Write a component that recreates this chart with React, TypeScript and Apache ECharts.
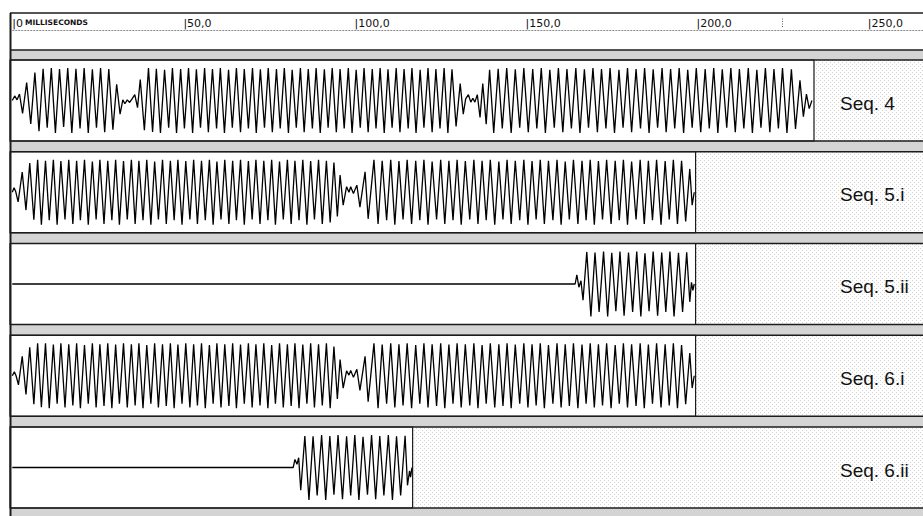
import React, { useEffect, useRef } from "react";
import * as echarts from "echarts";

// ---------- data ----------
const seqLabels = ["Seq. 4", "Seq. 5.i", "Seq. 5.ii", "Seq. 6.i", "Seq. 6.ii"];
const durationsMs = [234.3, 199.7, 199.7, 199.7, 117.0];
const rulerTicks = [0, 50, 100, 150, 200, 250];
const cursorMs = 225;

// turning points of each waveform: [time ms, relative amplitude]
const seq4Wave: [number, number][] = [
  [0,0],[0.7,0.14],[1.4,0.02],[2.1,0.2],[3.0,-0.4],[4.2,0.55],[5.4,-0.72],[6.6,0.86],[7.8,-0.95],[9.0,0.98],[10.2,-0.84],[11.4,1.0],[12.6,-1.0],[13.8,0.97],[15.0,-0.82],[16.2,1.0],[17.4,-1.0],[18.6,0.98],[19.8,-0.86],[21.0,1.0],[22.2,-1.0],[23.4,0.96],[24.6,-0.84],[25.8,1.0],[27.0,-0.98],[28.2,0.97],[29.4,-0.9],[30.5,0.5],[31.5,-0.42],[32.3,0.02],[32.9,-0.1],[33.6,0.02],[34.3,-0.06],[35.0,0.05],[35.8,0.18],[36.6,-0.22],[37.4,0.65],[38.6,-0.92],[39.8,1.0],
  [41.0,-0.97],[42.1,0.98],[43.3,-1.0],[44.5,0.95],[45.7,-0.84],[46.8,1.0],[48.0,-1.0],[49.2,0.97],[50.3,-0.86],[51.5,1.0],[52.7,-1.0],[53.8,0.96],[55.0,-0.84],[56.2,1.0],[57.3,-0.98],[58.5,0.97],[59.7,-0.86],[60.8,1.0],[62.0,-1.0],[63.2,0.95],[64.3,-0.84],[65.5,1.0],[66.7,-0.98],[67.8,0.97],[69.0,-0.86],[70.2,1.0],[71.3,-1.0],[72.5,0.96],[73.7,-0.84],[74.8,1.0],[76.0,-0.98],[77.2,0.97],[78.3,-0.86],[79.5,1.0],[80.7,-1.0],[81.8,0.95],[83.0,-0.84],[84.2,1.0],[85.3,-0.98],[86.5,0.97],[87.7,-0.86],[88.8,1.0],[90.0,-1.0],[91.2,0.96],[92.3,-0.84],[93.5,1.0],[94.7,-0.98],[95.8,0.97],[97.0,-0.86],[98.2,1.0],[99.3,-1.0],[100.5,0.95],[101.7,-0.84],[102.8,1.0],[104.0,-0.98],[105.2,0.97],[106.3,-0.86],[107.5,1.0],[108.7,-1.0],[109.8,0.96],[111.0,-0.84],[112.2,1.0],[113.3,-0.98],[114.5,0.97],[115.7,-0.86],[116.8,1.0],[118.0,-1.0],[119.2,0.95],[120.3,-0.84],[121.5,1.0],[122.7,-0.98],[123.8,0.97],[125.0,-0.86],[126.2,1.0],[127.3,-1.0],[128.5,0.96],[129.7,-0.8],[130.9,0.52],[131.8,-0.42],[132.5,0.05],[133.3,0.18],[134.0,-0.05],[134.6,0.07],[135.2,-0.05],[135.9,0.18],[136.7,-0.52],[137.5,0.52],[138.5,-0.73],[139.5,0.95],
  [140.7,-1.0],[142.0,0.98],[143.2,-0.86],[144.5,1.0],[145.8,-1.0],[147.0,0.96],[148.3,-0.84],[149.5,1.0],[150.8,-0.98],[152.1,0.97],[153.3,-0.86],[154.6,1.0],[155.8,-1.0],[157.1,0.95],[158.4,-0.84],[159.6,1.0],[160.9,-0.98],[162.1,0.97],[163.4,-0.86],[164.7,1.0],[165.9,-1.0],[167.2,0.96],[168.4,-0.84],[169.7,1.0],[171.0,-0.98],[172.2,0.97],[173.5,-0.86],[174.7,1.0],[176.0,-1.0],[177.3,0.95],[178.5,-0.84],[179.8,1.0],[181.0,-0.98],[182.3,0.97],[183.6,-0.86],[184.8,1.0],[186.1,-1.0],[187.3,0.96],[188.6,-0.84],[189.9,1.0],[191.1,-0.98],[192.4,0.97],[193.6,-0.86],[194.9,1.0],[196.2,-1.0],[197.4,0.95],[198.7,-0.84],[199.9,1.0],[201.2,-0.98],[202.5,0.97],[203.7,-0.86],[205.0,1.0],[206.2,-1.0],[207.5,0.96],[208.8,-0.84],[210.0,1.0],[211.3,-0.98],[212.5,0.97],[213.8,-0.86],[215.1,1.0],[216.3,-1.0],[217.6,0.95],[218.8,-0.84],[220.1,1.0],[221.4,-0.98],[222.6,0.97],[223.9,-0.86],[225.1,1.0],[226.4,-1.0],[227.7,0.96],[228.9,-0.88],[230.2,0.62],[231.2,-0.5],[232.1,0.2],[232.9,-0.25],[233.7,0]
];

const seq5iWave: [number, number][] = [
  [0,0],[0.5,0.14],[1.0,0.02],[1.7,-0.3],[2.9,0.62],[4.0,-0.55],[5.1,0.9],[6.3,-0.85],[7.4,1.0],[8.5,-1.0],[9.7,0.97],[10.8,-0.86],[12.0,1.0],[13.1,-1.0],[14.2,0.96],[15.4,-0.84],[16.5,1.0],[17.7,-0.98],[18.8,0.97],[19.9,-0.86],[21.1,1.0],[22.2,-1.0],[23.4,0.95],[24.5,-0.84],[25.6,1.0],[26.8,-0.98],[27.9,0.97],[29.1,-0.86],[30.2,1.0],[31.3,-1.0],[32.5,0.96],[33.6,-0.84],[34.8,1.0],[35.9,-0.98],[37.0,0.97],[38.2,-0.86],[39.3,1.0],[40.5,-1.0],[41.6,0.95],[42.7,-0.84],[43.9,1.0],[45.0,-0.98],[46.2,0.97],[47.3,-0.86],[48.4,1.0],[49.6,-1.0],[50.7,0.96],[51.9,-0.84],[53.0,1.0],[54.1,-0.98],[55.3,0.97],[56.4,-0.86],[57.6,1.0],[58.7,-1.0],[59.8,0.95],[61.0,-0.84],[62.1,1.0],[63.3,-0.98],[64.4,0.97],[65.5,-0.86],[66.7,1.0],[67.8,-1.0],[69.0,0.96],[70.1,-0.84],[71.2,1.0],[72.4,-0.98],[73.5,0.97],[74.7,-0.86],[75.8,1.0],[76.9,-1.0],[78.1,0.95],[79.2,-0.84],[80.4,1.0],[81.5,-0.98],[82.6,0.97],[83.8,-0.86],[84.9,1.0],[86.1,-1.0],[87.2,0.96],[88.3,-0.84],[89.5,1.0],[90.6,-0.98],[91.8,0.97],[92.9,-0.93],[94.0,0.92],[95.0,-0.75],[95.8,0.53],[96.7,-0.4],[97.7,0.17],[98.4,0.0],[98.9,0.17],[99.7,-0.04],[100.7,0.22],[101.6,-0.46],[103.1,0.63],[104.0,-0.82],[105.7,1.0],
  [106.9,-0.98],[108.1,0.97],[109.4,-0.86],[110.6,1.0],[111.8,-1.0],[113.0,0.96],[114.2,-0.84],[115.4,1.0],[116.7,-0.98],[117.9,0.97],[119.1,-0.86],[120.3,1.0],[121.5,-1.0],[122.7,0.95],[124.0,-0.84],[125.2,1.0],[126.4,-0.98],[127.6,0.97],[128.8,-0.86],[130.0,1.0],[131.2,-1.0],[132.4,0.96],[133.7,-0.84],[134.9,1.0],[136.1,-0.98],[137.3,0.97],[138.5,-0.86],[139.7,1.0],[141.0,-1.0],[142.2,0.95],[143.4,-0.84],[144.6,1.0],[145.8,-0.98],[147.0,0.97],[148.3,-0.86],[149.5,1.0],[150.7,-1.0],[151.9,0.96],[153.1,-0.84],[154.3,1.0],[155.5,-0.98],[156.7,0.97],[158.0,-0.86],[159.2,1.0],[160.4,-1.0],[161.6,0.95],[162.8,-0.84],[164.0,1.0],[165.3,-0.98],[166.5,0.97],[167.7,-0.86],[168.9,1.0],[170.1,-1.0],[171.3,0.96],[172.5,-0.84],[173.7,1.0],[175.0,-0.98],[176.2,0.97],[177.4,-0.86],[178.6,1.0],[179.8,-1.0],[181.0,0.95],[182.3,-0.84],[183.5,1.0],[184.7,-0.98],[185.9,0.97],[187.1,-0.86],[188.3,1.0],[189.6,-1.0],[190.8,0.96],[192.0,-0.84],[193.2,1.0],[194.4,-0.98],[195.6,0.97],[196.8,-0.9],[198.0,0.72],[198.7,-0.4],[199.3,0]
];

const seq5iiWave: [number, number][] = [
  [0,0],[164.5,0],[165.0,0.28],[165.6,-0.1],[166.2,0.1],[166.8,-0.5],[167.9,0.99],[169.1,-1.0],[170.3,0.97],[171.5,-0.86],[172.8,1.0],[174.0,-1.0],[175.2,0.96],[176.4,-0.84],[177.6,1.0],[178.8,-0.98],[180.1,0.97],[181.3,-0.86],[182.5,1.0],[183.7,-1.0],[184.9,0.95],[186.1,-0.84],[187.3,1.0],[188.6,-0.98],[189.8,0.97],[191.0,-0.86],[192.2,1.0],[193.4,-1.0],[194.7,0.96],[195.9,-0.86],[197.1,0.98],[198.0,-0.55],[198.5,0.05],[198.9,-0.2],[199.3,0]
];

const seq6iWave: [number, number][] = [
  [0,0],[0.6,0.12],[1.1,0.0],[1.8,-0.28],[2.9,0.6],[4.0,-0.58],[5.1,0.88],[6.3,-0.88],[7.4,1.0],[8.5,-0.97],[9.7,1.0],[10.8,-1.0],[12.0,0.96],[13.1,-0.86],[14.2,1.0],[15.4,-0.98],[16.5,0.97],[17.7,-0.92],[18.8,1.0],[19.9,-1.0],[21.1,0.95],[22.2,-0.86],[23.4,1.0],[24.5,-0.98],[25.6,0.97],[26.8,-0.93],[27.9,1.0],[29.1,-1.0],[30.2,0.96],[31.3,-0.86],[32.5,1.0],[33.6,-0.98],[34.8,0.97],[35.9,-0.92],[37.0,1.0],[38.2,-1.0],[39.3,0.95],[40.5,-0.86],[41.6,1.0],[42.7,-0.98],[43.9,0.97],[45.0,-0.93],[46.2,1.0],[47.3,-1.0],[48.4,0.96],[49.6,-0.86],[50.7,1.0],[51.9,-0.98],[53.0,0.97],[54.1,-0.92],[55.3,1.0],[56.4,-1.0],[57.6,0.95],[58.7,-0.86],[59.8,1.0],[61.0,-0.98],[62.1,0.97],[63.3,-0.93],[64.4,1.0],[65.5,-1.0],[66.7,0.96],[67.8,-0.86],[69.0,1.0],[70.1,-0.98],[71.2,0.97],[72.4,-0.92],[73.5,1.0],[74.7,-1.0],[75.8,0.95],[76.9,-0.86],[78.1,1.0],[79.2,-0.98],[80.4,0.97],[81.5,-0.93],[82.6,1.0],[83.8,-1.0],[84.9,0.96],[86.1,-0.86],[87.2,1.0],[88.3,-0.98],[89.5,0.97],[90.6,-0.92],[91.8,1.0],[92.9,-1.0],[94.0,0.9],[95.0,-0.72],[95.8,0.5],[96.7,-0.38],[97.7,0.15],[98.4,0.02],[98.9,0.16],[99.7,-0.05],[100.7,0.2],[101.6,-0.45],[103.1,0.6],[104.0,-0.8],[105.7,1.0],
  [106.9,-1.0],[108.1,0.96],[109.4,-0.86],[110.6,1.0],[111.8,-0.98],[113.0,0.97],[114.2,-0.92],[115.4,1.0],[116.7,-1.0],[117.9,0.95],[119.1,-0.86],[120.3,1.0],[121.5,-0.98],[122.7,0.97],[124.0,-0.93],[125.2,1.0],[126.4,-1.0],[127.6,0.96],[128.8,-0.86],[130.0,1.0],[131.2,-0.98],[132.4,0.97],[133.7,-0.92],[134.9,1.0],[136.1,-1.0],[137.3,0.95],[138.5,-0.86],[139.7,1.0],[141.0,-0.98],[142.2,0.97],[143.4,-0.93],[144.6,1.0],[145.8,-1.0],[147.0,0.96],[148.3,-0.86],[149.5,1.0],[150.7,-0.98],[151.9,0.97],[153.1,-0.92],[154.3,1.0],[155.5,-1.0],[156.7,0.95],[158.0,-0.86],[159.2,1.0],[160.4,-0.98],[161.6,0.97],[162.8,-0.93],[164.0,1.0],[165.3,-1.0],[166.5,0.96],[167.7,-0.86],[168.9,1.0],[170.1,-0.98],[171.3,0.97],[172.5,-0.92],[173.7,1.0],[175.0,-1.0],[176.2,0.95],[177.4,-0.86],[178.6,1.0],[179.8,-0.98],[181.0,0.97],[182.3,-0.93],[183.5,1.0],[184.7,-1.0],[185.9,0.96],[187.1,-0.86],[188.3,1.0],[189.6,-0.98],[190.8,0.97],[192.0,-0.92],[193.2,1.0],[194.4,-1.0],[195.6,0.95],[196.8,-0.88],[198.0,0.7],[198.7,-0.38],[199.3,0]
];

const seq6iiWave: [number, number][] = [
  [0,0],[82.1,0],[82.6,0.25],[83.2,0.1],[83.7,0.3],[84.3,-0.7],[85.5,0.97],[86.7,-1.0],[87.9,0.96],[89.1,-0.86],[90.4,1.0],[91.6,-1.0],[92.8,0.97],[94.0,-0.84],[95.2,1.0],[96.5,-0.98],[97.7,0.96],[98.9,-0.86],[100.1,1.0],[101.3,-1.0],[102.5,0.95],[103.8,-0.84],[105.0,1.0],[106.2,-0.98],[107.4,0.97],[108.6,-0.86],[109.9,1.0],[111.1,-1.0],[112.3,0.96],[113.5,-0.86],[114.8,0.98],[115.5,-0.55],[116.1,-0.1],[116.4,-0.3],[116.8,0]
];

// ---------- layout ----------
const W = 923;
const H = 516;
const FRAME_X = 10;
const ORIGIN_X = 12.3;
const PX_PER_MS = 3.4216;
const ROW_TOPS = [60, 151.75, 243.5, 335.25, 427];
const ROW_H = 81;
const LINE = "#1c1c1c";
const BAND = "#d4d4d4";

export default function App() {
  const ref = useRef<HTMLDivElement>(null);

  useEffect(() => {
    if (!ref.current) return;
    const chart = echarts.init(ref.current, undefined, { renderer: "svg" });

    const c = document.createElement("canvas");
    c.width = 4;
    c.height = 4;
    const ctx = c.getContext("2d");
    if (ctx) {
      ctx.fillStyle = "#ffffff";
      ctx.fillRect(0, 0, 4, 4);
      ctx.fillStyle = "#d2d2d2";
      ctx.fillRect(0, 0, 1, 1);
      ctx.fillRect(2, 2, 1, 1);
    }
    const stipple: any = { image: c.toDataURL(), repeat: "repeat", imageWidth: 4, imageHeight: 4 };

    const waves = [seq4Wave, seq5iWave, seq5iiWave, seq6iWave, seq6iiWave];
    const off = (ORIGIN_X - FRAME_X) / PX_PER_MS;

    const grids: any[] = [
      { left: ORIGIN_X, top: 17, width: 250 * PX_PER_MS, height: 10 },
    ];
    const xAxes: any[] = [
      {
        gridIndex: 0,
        type: "value",
        min: rulerTicks[0],
        max: rulerTicks[rulerTicks.length - 1],
        interval: rulerTicks[1] - rulerTicks[0],
        position: "top",
        axisLine: { show: false },
        axisTick: { show: false },
        splitLine: { show: false },
        axisLabel: {
          inside: true,
          margin: 0,
          align: "left",
          verticalAlign: "top",
          showMinLabel: true,
          showMaxLabel: true,
          fontFamily: "DejaVu Sans",
          fontSize: 11,
          lineHeight: 12,
          color: "#111",
          formatter: (v: number) => (v === 0 ? "|0{s|MILLISECONDS}" : `|${v},0`),
          rich: {
            s: {
              fontFamily: "DejaVu Sans",
              fontSize: 7.5,
              fontWeight: "bold",
              lineHeight: 12,
              verticalAlign: "top",
              padding: [1, 0, 0, 2],
              color: "#111",
            },
          },
        },
      },
    ];
    const yAxes: any[] = [{ gridIndex: 0, type: "value", min: 0, max: 1, show: false }];
    const series: any[] = [
      {
        type: "line",
        xAxisIndex: 0,
        yAxisIndex: 0,
        data: [],
        silent: true,
        markLine: {
          silent: true,
          symbol: ["none", "none"],
          label: { show: false },
          lineStyle: { type: [1, 1.5], color: "#555", width: 1 },
          data: [{ xAxis: cursorMs }],
        },
      },
    ];

    durationsMs.forEach((d, i) => {
      grids.push({
        left: FRAME_X,
        top: ROW_TOPS[i],
        width: (d + off) * PX_PER_MS,
        height: ROW_H,
        show: true,
        backgroundColor: "#ffffff",
        borderColor: LINE,
        borderWidth: 1.2,
      });
      xAxes.push({ gridIndex: i + 1, type: "value", min: -off, max: d, show: false });
      yAxes.push({ gridIndex: i + 1, type: "value", min: -1.25, max: 1.25, show: false });
      series.push({
        type: "line",
        xAxisIndex: i + 1,
        yAxisIndex: i + 1,
        data: waves[i],
        showSymbol: false,
        symbol: "none",
        silent: true,
        lineStyle: { color: "#000", width: 1.3 },
      });
    });

    const graphics: any[] = [];
    graphics.push({ type: "rect", z: -5, shape: { x: FRAME_X, y: 13, width: W - FRAME_X, height: 37 }, style: { fill: "#fff" } });
    const bands: [number, number][] = [[50, 60]];
    ROW_TOPS.forEach((t, i) => {
      const b = t + ROW_H;
      const next = i < ROW_TOPS.length - 1 ? ROW_TOPS[i + 1] : H;
      bands.push([b, next]);
    });
    bands.forEach(([a, b]) =>
      graphics.push({ type: "rect", z: -5, shape: { x: FRAME_X, y: a, width: W - FRAME_X, height: b - a }, style: { fill: BAND } })
    );
    ROW_TOPS.forEach((t) =>
      graphics.push({ type: "rect", z: -5, shape: { x: FRAME_X, y: t, width: W - FRAME_X, height: ROW_H }, style: { fill: stipple } })
    );
    const hLines = [13, 50, ...ROW_TOPS.flatMap((t) => [t, t + ROW_H])];
    hLines.forEach((y) =>
      graphics.push({ type: "line", z: 20, shape: { x1: FRAME_X, y1: y, x2: W, y2: y }, style: { stroke: LINE, lineWidth: 1.3 } })
    );
    graphics.push({ type: "line", z: 20, shape: { x1: ORIGIN_X, y1: 30.5, x2: W, y2: 30.5 }, style: { stroke: "#8a8a8a", lineWidth: 1, lineDash: [2, 1] } });
    graphics.push({ type: "line", z: 20, shape: { x1: FRAME_X + 0.5, y1: 13, x2: FRAME_X + 0.5, y2: H }, style: { stroke: LINE, lineWidth: 2 } });
    seqLabels.forEach((s, i) =>
      graphics.push({
        type: "text",
        z: 20,
        x: 840,
        y: ROW_TOPS[i] + ROW_H / 2 + 2.5,
        style: { text: s, fill: "#111", fontSize: 19, fontFamily: "Liberation Sans, Arial, sans-serif", verticalAlign: "middle", align: "left" },
      })
    );

    chart.setOption({
      animation: false,
      backgroundColor: "#ffffff",
      grid: grids,
      xAxis: xAxes,
      yAxis: yAxes,
      series,
      graphic: graphics,
    });

    return () => chart.dispose();
  }, []);

  return (
    <div
      ref={ref}
      style={{ position: "absolute", left: 0, top: 0, width: W, height: H, background: "#fff" }}
    />
  );
}
